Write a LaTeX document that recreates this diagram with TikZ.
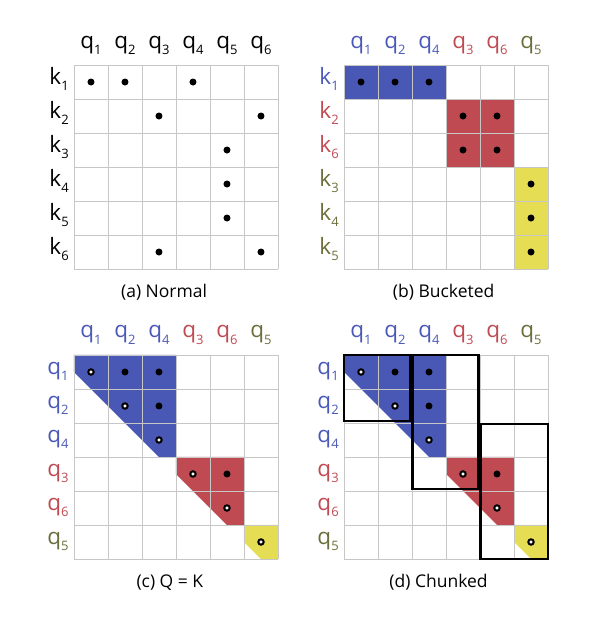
\documentclass[tikz,border=0pt]{standalone}
\usepackage{fontspec}
\setmainfont{Open Sans}
\usetikzlibrary{positioning}
\definecolor{bktblue}{HTML}{4A58B5}
\definecolor{bktred}{HTML}{C04A52}
\definecolor{bktyellow}{HTML}{E5DE55}
\definecolor{labblue}{HTML}{4A58B8}
\definecolor{labred}{HTML}{C04A52}
\definecolor{labolive}{HTML}{6B6E3A}
\tikzset{
  gridline/.style={draw=black!22, line width=0.9pt, step=34pt},
  qlab/.style={anchor=base, inner sep=0pt, font=\fontsize{22.5}{25}\selectfont},
  klab/.style={anchor=base east, inner sep=0pt, font=\fontsize{22.5}{25}\selectfont},
  caption/.style={anchor=base, inner sep=0pt, font=\fontsize{17.5}{20}\selectfont},
  chunk/.style={draw=black, line width=2.4pt},
}
\newcommand{\idx}[1]{\raisebox{-0.28em}{\fontsize{13}{15}\selectfont #1}}
\newcommand{\fulldot}[2]{\fill[black] (#1-0.5,#2-0.5) circle[radius=3.5pt];}
\newcommand{\opendot}[2]{\draw[black, fill=white, line width=2pt] (#1-0.5,#2-0.5) circle[radius=2.7pt];}

\begin{document}
\begin{tikzpicture}[x=34pt, y=-34pt]
  \useasboundingbox (0,0) rectangle (17.559,18.265);

  % (a) normal
  \begin{scope}[shift={(2.176,1.912)}]
    \draw[gridline] (0,0) grid (6,6);
    \foreach \n in {1,...,6} {
      \node[qlab] (qa\n) at (\n-0.5,-0.5) {q\idx{\n}};
      \node[klab] (ka\n) at (-0.15,\n-0.44) {k\idx{\n}};
    }
    \foreach \c/\r in {1/1,2/1,4/1,3/2,6/2,5/3,5/4,5/5,3/6,6/6} {\fulldot{\c}{\r}}
    \node[caption] (capa) at (2.65,6.85) {(a) Normal};
  \end{scope}

  % (b) bucketed
  \begin{scope}[shift={(10.118,1.912)}]
    \fill[bktblue] (0,0) rectangle (3,1);
    \fill[bktred] (3,1) rectangle (5,3);
    \fill[bktyellow] (5,3) rectangle (6,6);
    \draw[gridline] (0,0) grid (6,6);
    \foreach \lab/\col [count=\n] in {1/labblue,2/labblue,4/labblue,3/labred,6/labred,5/labolive}
      \node[qlab, text=\col] (qb\n) at (\n-0.5,-0.5) {q\idx{\lab}};
    \foreach \lab/\col [count=\n] in {1/labblue,2/labred,6/labred,3/labolive,4/labolive,5/labolive}
      \node[klab, text=\col] (kb\n) at (-0.15,\n-0.44) {k\idx{\lab}};
    \foreach \c/\r in {1/1,2/1,3/1,4/2,5/2,4/3,5/3,6/4,6/5,6/6} {\fulldot{\c}{\r}}
    \node[caption] (capb) at (2.93,6.85) {(b) Bucketed};
  \end{scope}

  % (c) Q = K
  \begin{scope}[shift={(2.176,10.441)}]
    \fill[bktblue] (0,0) -- (3,0) -- (3,3) -- (2.5,3) -- (0,0.5) -- cycle;
    \fill[bktred] (3,3) -- (5,3) -- (5,5) -- (4.5,5) -- (3,3.5) -- cycle;
    \fill[bktyellow] (5,5) -- (6,5) -- (6,6) -- (5.5,6) -- (5,5.5) -- cycle;
    \draw[gridline] (0,0) grid (6,6);
    \foreach \lab/\col [count=\n] in {1/labblue,2/labblue,4/labblue,3/labred,6/labred,5/labolive} {
      \node[qlab, text=\col] (qc\n) at (\n-0.5,-0.5) {q\idx{\lab}};
      \node[klab, text=\col] (kc\n) at (-0.15,\n-0.44) {q\idx{\lab}};
    }
    \foreach \c/\r in {2/1,3/1,3/2,5/4} {\fulldot{\c}{\r}}
    \foreach \n in {1,...,6} {\opendot{\n}{\n}}
    \node[caption] (capc) at (2.82,6.85) {(c) Q = K};
  \end{scope}

  % (d) chunked
  \begin{scope}[shift={(10.118,10.441)}]
    \fill[bktblue] (0,0) -- (3,0) -- (3,3) -- (2.5,3) -- (0,0.5) -- cycle;
    \fill[bktred] (3,3) -- (5,3) -- (5,5) -- (4.5,5) -- (3,3.5) -- cycle;
    \fill[bktyellow] (5,5) -- (6,5) -- (6,6) -- (5.5,6) -- (5,5.5) -- cycle;
    \draw[gridline] (0,0) grid (6,6);
    \foreach \lab/\col [count=\n] in {1/labblue,2/labblue,4/labblue,3/labred,6/labred,5/labolive} {
      \node[qlab, text=\col] (qd\n) at (\n-0.5,-0.5) {q\idx{\lab}};
      \node[klab, text=\col] (kd\n) at (-0.15,\n-0.44) {q\idx{\lab}};
    }
    \draw[chunk] (0,0) rectangle (1.95,1.95);
    \draw[chunk] (2.02,0) rectangle (3.95,3.95);
    \draw[chunk] (4.02,2.03) rectangle (6,6);
    \foreach \c/\r in {2/1,3/1,3/2,5/4} {\fulldot{\c}{\r}}
    \foreach \n in {1,...,6} {\opendot{\n}{\n}}
    \node[caption] (capd) at (2.78,6.85) {(d) Chunked};
  \end{scope}
\end{tikzpicture}
\end{document}
